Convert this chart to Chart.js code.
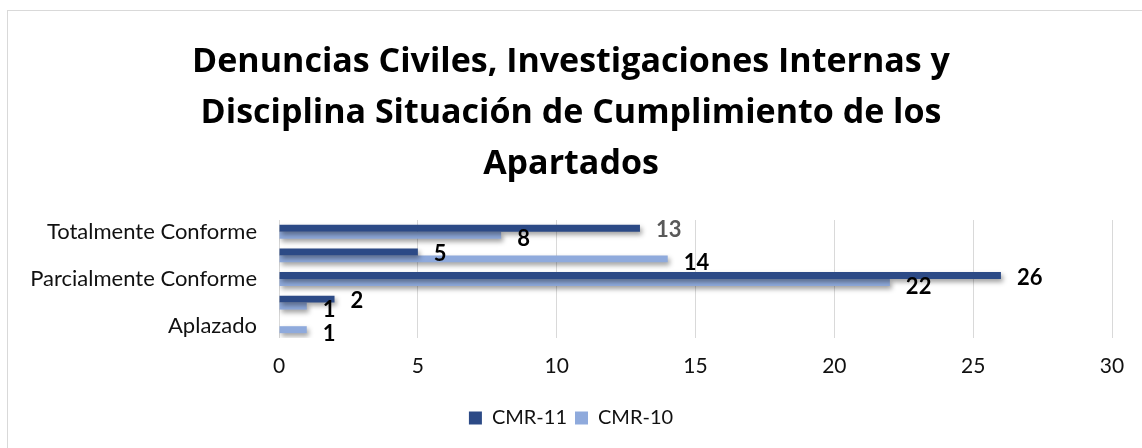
<!DOCTYPE html>
<html lang="es">
<head>
<meta charset="utf-8">
<title>Denuncias Civiles</title>
<script src="https://cdn.jsdelivr.net/npm/chart.js@4.4.1/dist/chart.umd.min.js"></script>
<style>
  html, body { margin: 0; padding: 0; background: #fff; }
  #wrap { position: relative; width: 1142px; height: 448px; overflow: hidden; }
  #frame { position: absolute; left: 7px; top: 10px; width: 1200px; height: 500px; border: 1px solid #d9d9d9; box-sizing: border-box; }
  #chart { position: absolute; left: 0; top: 0; }
</style>
</head>
<body>
<div id="wrap">
  <div id="frame"></div>
  <canvas id="chart" width="1142" height="448"></canvas>
</div>
<script>
  // data (top row first)
  const categories = ['Totalmente Conforme', 'Sustancialmente Conforme', 'Parcialmente Conforme', 'No Conforme', 'Aplazado'];
  const cmr11 = [13, 5, 26, 2, null];
  const cmr10 = [8, 14, 22, 1, 1];
  const xTicks = [0, 5, 10, 15, 20, 25, 30];
  const titleLines = ['Denuncias Civiles, Investigaciones Internas y', 'Disciplina Situación de Cumplimiento de los', 'Apartados'];

  const FONT = 'Lato, "Open Sans", sans-serif';
  const TITLE_FONT = '"Open Sans", Lato, sans-serif';
  const DARK = '#2c4a86';
  const LIGHT = '#8faadc';

  // soft drop shadow under the bars, like the office chart
  const barShadow = {
    id: 'barShadow',
    beforeDatasetsDraw(chart) {
      const ctx = chart.ctx;
      ctx.save();
      ctx.shadowColor = 'rgba(0,0,0,0.38)';
      ctx.shadowBlur = 5;
      ctx.shadowOffsetX = 2;
      ctx.shadowOffsetY = 3;
    },
    afterDatasetsDraw(chart) {
      chart.ctx.restore();
    }
  };

  // value labels at the end of each bar
  const barLabels = {
    id: 'barLabels',
    afterDatasetsDraw(chart) {
      const ctx = chart.ctx;
      ctx.save();
      ctx.font = 'bold 22px ' + FONT;
      ctx.textAlign = 'left';
      ctx.textBaseline = 'middle';
      chart.data.datasets.forEach((ds, di) => {
        const meta = chart.getDatasetMeta(di);
        meta.data.forEach((bar, i) => {
          const v = ds.data[i];
          if (v == null) return;
          ctx.fillStyle = (di === 0 && i === 0) ? '#595959' : '#000';
          ctx.fillText(String(v), bar.x + 16, bar.y + (di === 0 ? 2 : 4));
        });
      });
      ctx.restore();
    }
  };

  new Chart(document.getElementById('chart'), {
    type: 'bar',
    data: {
      labels: categories,
      datasets: [
        { label: 'CMR-11', data: cmr11, backgroundColor: DARK, borderWidth: 0 },
        { label: 'CMR-10', data: cmr10, backgroundColor: LIGHT, borderWidth: 0 }
      ]
    },
    options: {
      indexAxis: 'y',
      responsive: false,
      animation: false,
      categoryPercentage: 0.59,
      barPercentage: 1,
      layout: { padding: { left: 30, right: 30, top: 0, bottom: 10 } },
      plugins: {
        tooltip: { enabled: false },
        title: {
          display: true,
          text: titleLines,
          color: '#000',
          font: { family: TITLE_FONT, size: 34, weight: 'bold', lineHeight: 1.5 },
          padding: { top: 37, bottom: 30 }
        },
        legend: {
          position: 'bottom',
          labels: {
            color: '#111',
            font: { family: FONT, size: 20 },
            boxWidth: 13,
            boxHeight: 13,
            padding: 8
          }
        }
      },
      scales: {
        x: {
          min: 0,
          max: 30,
          afterBuildTicks: (scale) => { scale.ticks = xTicks.map(v => ({ value: v })); },
          afterFit: (scale) => { scale.height = 62; },
          ticks: { color: '#111', font: { family: FONT, size: 21 }, padding: 16 },
          grid: { color: '#d9d9d9', drawTicks: false },
          border: { display: false }
        },
        y: {
          afterFit: (scale) => { scale.width = 249; },
          ticks: {
            color: '#111',
            font: { family: FONT, size: 22 },
            padding: 22,
            autoSkip: false,
            callback: function(value, index) { return index % 2 === 0 ? this.getLabelForValue(value) : ''; }
          },
          grid: { display: false, drawTicks: false },
          border: { display: false }
        }
      }
    },
    plugins: [barShadow, barLabels]
  });
</script>
</body>
</html>
